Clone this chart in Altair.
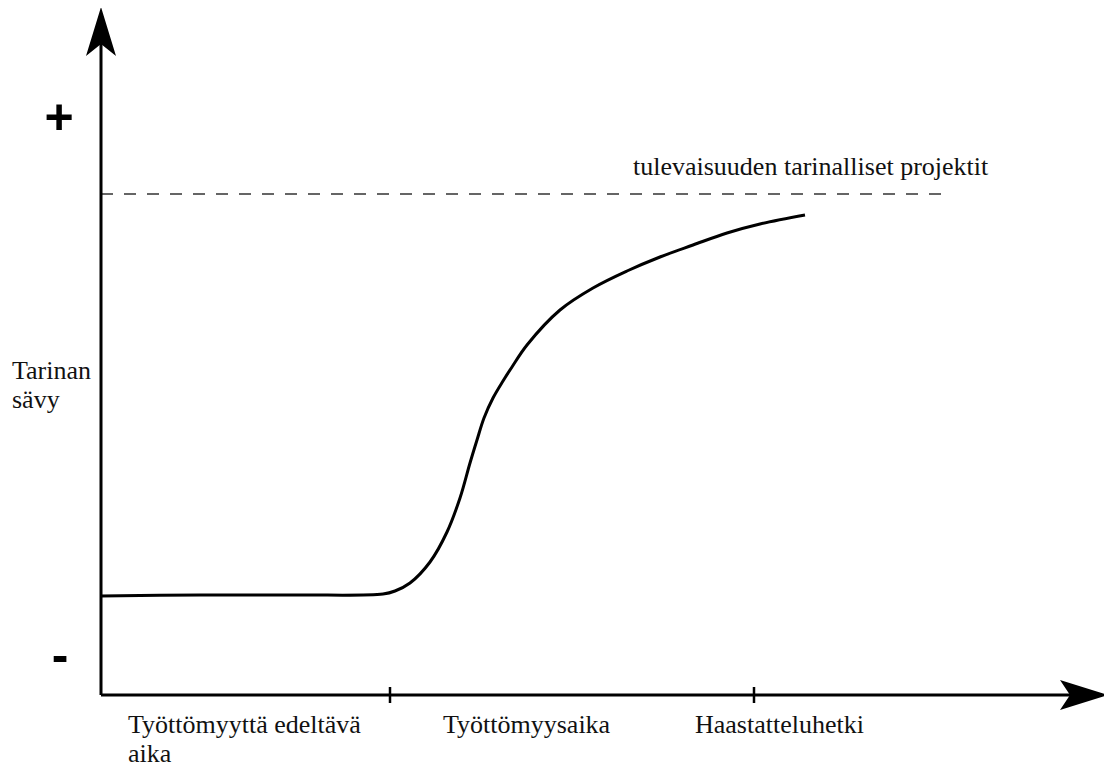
import altair as alt
import pandas as pd

# ---- values (in picture pixel units) ----
curve_x = [101, 200, 300, 383, 395, 410, 430, 447, 460, 470, 477, 484, 493, 503,
           512, 527, 560, 593, 627, 660, 693, 727, 760, 805]
curve_y = [596, 595, 595, 594, 591, 583, 562, 532, 498, 463, 440, 418, 398, 381,
           367, 345, 310, 288, 271, 257, 245, 233, 224, 215]

origin_x, origin_y = 101, 695
y_axis_top = 44
x_axis_end = 1070
tick_x = [390, 754]
tick_half = 8

dash_y = 194
dash_x = [101, 942]

arrow_x = [101, 1084]
arrow_y = [31.5, 695]
arrow_shape = ["M0,-0.98L0.6,0.98L0,0.5L-0.6,0.98Z",
               "M0.96,0L-0.96,-0.6L-0.56,0L-0.96,0.6Z"]

serif_text = ["tulevaisuuden tarinalliset projektit", "Tarinan", "sävy",
              "Työttömyyttä edeltävä", "aika", "Työttömyysaika", "Haastatteluhetki"]
serif_x = [633, 12, 12, 128, 128, 443, 695]
serif_y = [175, 379, 408, 733, 762, 733, 733]

sign_text = ["+", "-"]
sign_x = [59, 60]
sign_y = [134, 672]

W, H = 1096, 761
xs = alt.Scale(domain=[8, 8 + W])
ys = alt.Scale(domain=[8, 8 + H], reverse=True)
X = lambda f: alt.X(f, type="quantitative", scale=xs, axis=None)
Y = lambda f: alt.Y(f, type="quantitative", scale=ys, axis=None)

curve_df = pd.DataFrame({"x": curve_x, "y": curve_y})
curve = alt.Chart(curve_df).mark_line(color="black", strokeWidth=3,
                                       interpolate="catmull-rom").encode(x=X("x"), y=Y("y"))

axes_df = pd.DataFrame({
    "x": [origin_x, origin_x], "y": [origin_y, y_axis_top],
    "x2": [x_axis_end, origin_x], "y2": [origin_y, origin_y]})
axes = alt.Chart(axes_df).mark_rule(color="black", strokeWidth=3).encode(
    x=X("x"), y=Y("y"), x2="x2", y2="y2")

ticks_df = pd.DataFrame({"x": tick_x,
                         "y": [origin_y - tick_half] * len(tick_x),
                         "y2": [origin_y + tick_half] * len(tick_x)})
ticks = alt.Chart(ticks_df).mark_rule(color="black", strokeWidth=2.5).encode(
    x=X("x"), y=Y("y"), y2="y2")

dash_df = pd.DataFrame({"x": [dash_x[0]], "x2": [dash_x[1]], "y": [dash_y]})
dash = alt.Chart(dash_df).mark_rule(color="#333333", strokeWidth=1.4,
                                    strokeDash=[12, 11]).encode(
    x=X("x"), x2="x2", y=Y("y"))

arrows = alt.layer(*[
    alt.Chart(pd.DataFrame({"x": [ax], "y": [ay]})).mark_point(
        shape=shp, size=2500, filled=True, color="black", opacity=1, strokeWidth=0
    ).encode(x=X("x"), y=Y("y"))
    for ax, ay, shp in zip(arrow_x, arrow_y, arrow_shape)
])

serif_df = pd.DataFrame({"t": serif_text, "x": serif_x, "y": serif_y})
serif = alt.Chart(serif_df).mark_text(font="Liberation Serif",
                                      fontSize=26, align="left", baseline="alphabetic",
                                      color="#111111").encode(
    x=X("x"), y=Y("y"), text="t")

sign_df = pd.DataFrame({"t": sign_text, "x": sign_x, "y": sign_y})
signs = alt.Chart(sign_df).mark_text(font="Liberation Sans", fontSize=50,
                                     fontWeight="bold", align="center",
                                     baseline="alphabetic", color="black").encode(
    x=X("x"), y=Y("y"), text="t")

chart = alt.layer(dash, curve, axes, ticks, arrows, serif, signs).properties(
    width=W, height=H, padding=0,
    autosize=alt.AutoSizeParams(type="none"),
).configure_view(stroke=None)

chart.save("out.html", embed_options={"renderer": "svg", "actions": False})
